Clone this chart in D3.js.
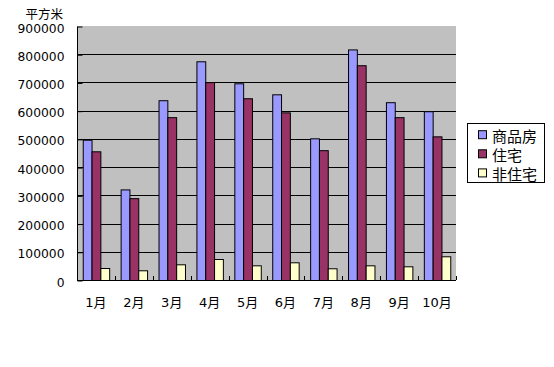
<!DOCTYPE html>
<html><head><meta charset="utf-8">
<script src="https://cdn.jsdelivr.net/npm/d3@7"></script>
<style>html,body{margin:0;padding:0;background:#fff;}svg{display:block;}</style>
</head><body>
<script>
const categories = ["1月","2月","3月","4月","5月","6月","7月","8月","9月","10月"];
const seriesNames = ["商品房","住宅","非住宅"];
const commercial = [497000, 321000, 637000, 775000, 697000, 658000, 502000, 817000, 630000, 598000];
const residential = [456000, 290000, 577000, 701000, 644000, 594000, 460000, 761000, 577000, 509000];
const nonResidential = [42500, 34400, 55600, 74400, 52000, 62700, 41500, 52000, 48500, 84000];
const yTicks = [0,100000,200000,300000,400000,500000,600000,700000,800000,900000];
const unitLabel = "平方米";
const colors = ["#9999FF","#993366","#FFFFCC"];

const seriesValues = [commercial, residential, nonResidential];
const W = 554, H = 367;
const plot = {l:77, r:456, t:26, b:280};
const svg = d3.select("body").append("svg").attr("width",W).attr("height",H);

const x = d3.scaleBand().domain(categories).range([plot.l, plot.r]).padding(0);
const barW = x.step()/(3+1.3);
const gap = 1.3*barW;
const x1 = d3.scaleBand().domain(seriesNames).range([gap/2, x.step()-gap/2]).padding(0);
const y = d3.scaleLinear().domain([0,900000]).range([plot.b, plot.t]);

// plot background
svg.append("rect").attr("x",plot.l).attr("y",plot.t).attr("width",plot.r-plot.l).attr("height",plot.b-plot.t).attr("fill","#C0C0C0");

// gridlines
svg.append("g").selectAll("line").data(yTicks.filter(v=>v>0 && v<900000)).join("line")
  .attr("x1",plot.l).attr("x2",plot.r).attr("y1",d=>Math.round(y(d))+0.5).attr("y2",d=>Math.round(y(d))+0.5)
  .attr("stroke","#000").attr("stroke-width",1);

// bars
const data = [];
categories.forEach((c,i)=>seriesNames.forEach((s,j)=>data.push({c,s,j,v:seriesValues[j][i]})));
svg.append("g").selectAll("rect").data(data).join("rect")
  .attr("x",d=>x(d.c)+x1(d.s)+0.5)
  .attr("y",d=>y(d.v)+0.5)
  .attr("width",x1.bandwidth())
  .attr("height",d=>plot.b-y(d.v))
  .attr("fill",d=>colors[d.j]).attr("stroke","#000").attr("stroke-width",1);

const fontNum = "'DejaVu Sans','Noto Sans CJK SC',sans-serif";
const fontCJK = "'Noto Sans CJK SC','DejaVu Sans',sans-serif";

// y axis
const yAxis = d3.axisLeft(y).tickValues(yTicks).tickSize(-5).tickPadding(13).tickFormat(d3.format("d"));
const gy = svg.append("g").attr("transform",`translate(${plot.l+0.5},0.5)`).call(yAxis);
gy.select(".domain").attr("stroke","#000").attr("d",`M0,${plot.t}V${plot.b}`);
gy.selectAll(".tick line").attr("stroke","#000");
gy.selectAll(".tick text").attr("font-family",fontNum).attr("font-size","12.3px").attr("fill","#000").attr("dy","0.45em");

// x axis
const xAxis = d3.axisBottom(x).tickSize(0).tickPadding(0);
const gx = svg.append("g").attr("transform",`translate(0,${plot.b+0.5})`).call(xAxis);
gx.select(".domain").attr("stroke","#000").attr("d",`M${plot.l},0H${plot.r}`);
gx.selectAll(".tick text").attr("font-family",fontNum).attr("font-size","13px").attr("fill","#000")
  .attr("y",21.5).attr("dy","0").attr("dominant-baseline","central");
// category boundary ticks (inward)
svg.append("g").selectAll("line").data(categories).join("line")
  .attr("x1",d=>Math.round(x(d)+x.step())+0.5).attr("x2",d=>Math.round(x(d)+x.step())+0.5)
  .attr("y1",plot.b-4).attr("y2",plot.b).attr("stroke","#000");

// unit label
svg.append("text").attr("x",63).attr("y",13.5).attr("text-anchor","end").attr("dominant-baseline","central")
  .attr("font-family",fontCJK).attr("font-size","12.5px").text(unitLabel);

// legend
const lg = svg.append("g");
lg.append("rect").attr("x",467.5).attr("y",123.5).attr("width",77).attr("height",59).attr("fill","#fff").attr("stroke","#000");
const rows = lg.selectAll("g").data(seriesNames).join("g").attr("transform",(d,i)=>`translate(0,${134.7+i*19.1})`);
rows.append("rect").attr("x",478.5).attr("y",-4).attr("width",8).attr("height",8).attr("fill",(d,i)=>colors[i]).attr("stroke","#000");
rows.append("text").attr("x",492).attr("y",0.5).attr("dominant-baseline","central")
  .attr("font-family",fontCJK).attr("font-size","15px").text(d=>d);
</script>
</body></html>
